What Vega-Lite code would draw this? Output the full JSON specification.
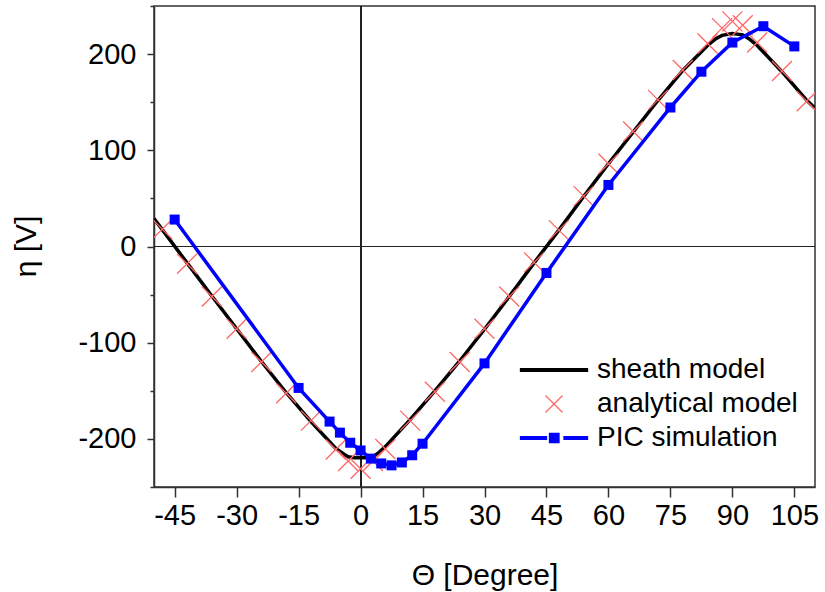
{
  "$schema": "https://vega.github.io/schema/vega-lite/v6.json",
  "width": 661,
  "height": 481,
  "autosize": "none",
  "padding": {"left": 154, "top": 6, "right": 10, "bottom": 105},
  "background": "white",
  "config": {
    "view": {"stroke": "#333", "strokeWidth": 1.5},
    "axis": {
      "grid": false,
      "domainColor": "#333", "domainWidth": 1.5,
      "tickColor": "#333", "tickWidth": 1.5,
      "labelFont": "Liberation Sans", "labelFontSize": 29, "labelColor": "#000",
      "titleFont": "Liberation Sans", "titleFontSize": 30, "titleFontWeight": "normal", "titleColor": "#000"
    },
    "legend": {
      "labelFont": "Liberation Sans", "labelFontSize": 28, "labelColor": "#000", "labelLimit": 400
    }
  },
  "data": {"values": [
    {"s": "sheath model", "t": -50, "v": 29},
    {"s": "sheath model", "t": -48, "v": 17.5},
    {"s": "sheath model", "t": -42, "v": -17},
    {"s": "sheath model", "t": -36, "v": -51.5},
    {"s": "sheath model", "t": -30, "v": -85.5},
    {"s": "sheath model", "t": -24, "v": -119.5},
    {"s": "sheath model", "t": -18, "v": -152},
    {"s": "sheath model", "t": -12, "v": -182},
    {"s": "sheath model", "t": -6, "v": -210},
    {"s": "sheath model", "t": -4, "v": -216},
    {"s": "sheath model", "t": -3, "v": -218.5},
    {"s": "sheath model", "t": -1.5, "v": -219.5},
    {"s": "sheath model", "t": 0, "v": -219.5},
    {"s": "sheath model", "t": 1.5, "v": -219.5},
    {"s": "sheath model", "t": 3, "v": -218.5},
    {"s": "sheath model", "t": 4.5, "v": -214},
    {"s": "sheath model", "t": 6, "v": -208},
    {"s": "sheath model", "t": 12, "v": -180},
    {"s": "sheath model", "t": 18, "v": -150},
    {"s": "sheath model", "t": 24, "v": -119},
    {"s": "sheath model", "t": 30, "v": -86},
    {"s": "sheath model", "t": 36, "v": -52},
    {"s": "sheath model", "t": 42, "v": -17},
    {"s": "sheath model", "t": 48, "v": 17},
    {"s": "sheath model", "t": 54, "v": 52},
    {"s": "sheath model", "t": 60, "v": 86},
    {"s": "sheath model", "t": 66, "v": 119},
    {"s": "sheath model", "t": 72, "v": 152},
    {"s": "sheath model", "t": 78, "v": 183},
    {"s": "sheath model", "t": 84, "v": 209},
    {"s": "sheath model", "t": 86, "v": 216},
    {"s": "sheath model", "t": 87.5, "v": 219.5},
    {"s": "sheath model", "t": 90, "v": 221.3},
    {"s": "sheath model", "t": 92.5, "v": 220},
    {"s": "sheath model", "t": 94, "v": 216},
    {"s": "sheath model", "t": 96, "v": 209},
    {"s": "sheath model", "t": 102, "v": 181.7},
    {"s": "sheath model", "t": 108, "v": 152},
    {"s": "sheath model", "t": 110, "v": 143.7},

    {"s": "analytical model", "t": -48, "v": 18},
    {"s": "analytical model", "t": -42, "v": -18},
    {"s": "analytical model", "t": -36, "v": -52},
    {"s": "analytical model", "t": -30, "v": -85.5},
    {"s": "analytical model", "t": -24, "v": -120},
    {"s": "analytical model", "t": -18, "v": -152.5},
    {"s": "analytical model", "t": -12, "v": -181},
    {"s": "analytical model", "t": -6, "v": -211},
    {"s": "analytical model", "t": -3, "v": -223},
    {"s": "analytical model", "t": 0, "v": -231},
    {"s": "analytical model", "t": 3, "v": -223},
    {"s": "analytical model", "t": 6, "v": -210.5},
    {"s": "analytical model", "t": 12, "v": -181},
    {"s": "analytical model", "t": 18, "v": -151},
    {"s": "analytical model", "t": 24, "v": -120},
    {"s": "analytical model", "t": 30, "v": -85.5},
    {"s": "analytical model", "t": 36, "v": -52},
    {"s": "analytical model", "t": 42, "v": -16.5},
    {"s": "analytical model", "t": 48, "v": 17},
    {"s": "analytical model", "t": 54, "v": 52.4},
    {"s": "analytical model", "t": 60, "v": 86},
    {"s": "analytical model", "t": 66, "v": 119.6},
    {"s": "analytical model", "t": 72, "v": 152.4},
    {"s": "analytical model", "t": 78, "v": 183.5},
    {"s": "analytical model", "t": 84, "v": 211},
    {"s": "analytical model", "t": 87.5, "v": 227},
    {"s": "analytical model", "t": 90, "v": 234},
    {"s": "analytical model", "t": 92.5, "v": 230},
    {"s": "analytical model", "t": 96, "v": 212},
    {"s": "analytical model", "t": 102, "v": 182.5},
    {"s": "analytical model", "t": 108, "v": 151},

    {"s": "PIC simulation", "t": -45, "v": 28},
    {"s": "PIC simulation", "t": -15, "v": -147},
    {"s": "PIC simulation", "t": -7.5, "v": -182},
    {"s": "PIC simulation", "t": -5, "v": -193.5},
    {"s": "PIC simulation", "t": -2.5, "v": -204},
    {"s": "PIC simulation", "t": 0, "v": -212},
    {"s": "PIC simulation", "t": 2.5, "v": -220.5},
    {"s": "PIC simulation", "t": 5, "v": -225.5},
    {"s": "PIC simulation", "t": 7.5, "v": -227.5},
    {"s": "PIC simulation", "t": 10, "v": -224.5},
    {"s": "PIC simulation", "t": 12.5, "v": -217},
    {"s": "PIC simulation", "t": 15, "v": -205},
    {"s": "PIC simulation", "t": 30, "v": -121.5},
    {"s": "PIC simulation", "t": 45, "v": -27.5},
    {"s": "PIC simulation", "t": 60, "v": 64},
    {"s": "PIC simulation", "t": 75, "v": 144.5},
    {"s": "PIC simulation", "t": 82.5, "v": 181.7},
    {"s": "PIC simulation", "t": 90, "v": 212},
    {"s": "PIC simulation", "t": 97.5, "v": 229},
    {"s": "PIC simulation", "t": 105, "v": 208}
  ]},
  "layer": [
    {
      "mark": {"type": "rule", "color": "#222", "strokeWidth": 1},
      "encoding": {"x": {"datum": 0, "type": "quantitative"}}
    },
    {
      "mark": {"type": "rule", "color": "#222", "strokeWidth": 1},
      "encoding": {"y": {"datum": 0, "type": "quantitative"}}
    },
    {
      "transform": [{"filter": "datum.s === 'sheath model'"}],
      "mark": {"type": "line", "strokeWidth": 3.5, "clip": true},
      "encoding": {
        "x": {"field": "t", "type": "quantitative", "scale": {"domain": [-50, 110], "nice": false, "zero": false},
          "axis": {"values": [-45, -37.5, -30, -22.5, -15, -7.5, 0, 7.5, 15, 22.5, 30, 37.5, 45, 52.5, 60, 67.5, 75, 82.5, 90, 97.5, 105],
            "tickSize": {"condition": {"test": "datum.value % 15 === 0", "value": 10}, "value": 5},
            "labelExpr": "datum.value % 15 === 0 ? '' + datum.value : ''",
            "labelPadding": 4, "title": "Θ [Degree]", "titleBaseline": "alphabetic", "titleY": 97, "labelFlush": false, "labelOverlap": false}},
        "y": {"field": "v", "type": "quantitative", "scale": {"domain": [-250, 250], "nice": false, "zero": false},
          "axis": {"values": [-250, -200, -150, -100, -50, 0, 50, 100, 150, 200, 250],
            "tickSize": {"condition": {"test": "datum.value % 100 === 0", "value": 7}, "value": 4},
            "labelExpr": "datum.value % 100 === 0 ? '' + datum.value : ''",
            "labelPadding": 11, "title": "η [V]", "titleAngle": -90, "titleBaseline": "middle", "titleX": -128, "titleY": 240, "labelFlush": false, "labelOverlap": false}},
        "color": {"field": "s", "type": "nominal",
          "scale": {"domain": ["sheath model", "analytical model", "PIC simulation"], "range": ["#000000", "#ff6666", "#0000ff"]},
          "legend": {"title": null, "orient": "none", "legendX": 386, "legendY": 350, "padding": 0, "symbolSize": 400, "labelOffset": 29, "rowPadding": 6, "symbolStrokeWidth": 1.3}}
      }
    },
    {
      "transform": [{"filter": "datum.s === 'analytical model'"}],
      "mark": {"type": "point", "filled": false, "strokeWidth": 1.3, "opacity": 1, "size": 554, "clip": true},
      "encoding": {
        "x": {"field": "t", "type": "quantitative"},
        "y": {"field": "v", "type": "quantitative"},
        "color": {"field": "s", "type": "nominal"},
        "shape": {"field": "s", "type": "nominal",
          "scale": {"domain": ["sheath model", "analytical model", "PIC simulation"], "range": [
            "M-3.35,-0.14L3.35,-0.14L3.35,0.14L-3.35,0.14Z",
            "M-0.85,-0.85L0.85,0.85M-0.85,0.85L0.85,-0.85",
            "M-3.35,-0.14L-0.75,-0.14L-0.75,0.14L-3.35,0.14ZM1,-0.14L3.35,-0.14L3.35,0.14L1,0.14ZM-0.45,-0.45L0.5,-0.45L0.5,0.45L-0.45,0.45Z"]}}
      }
    },
    {
      "transform": [{"filter": "datum.s === 'PIC simulation'"}],
      "mark": {"type": "line", "strokeWidth": 3.5, "clip": true, "point": {"shape": "square", "filled": true, "size": 100, "opacity": 1}},
      "encoding": {
        "x": {"field": "t", "type": "quantitative"},
        "y": {"field": "v", "type": "quantitative"},
        "color": {"field": "s", "type": "nominal"}
      }
    }
  ]
}
